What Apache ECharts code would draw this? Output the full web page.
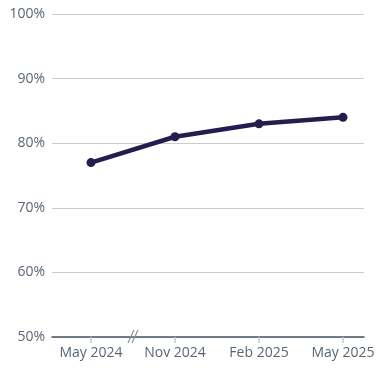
<!DOCTYPE html>
<html>
<head>
<meta charset="utf-8">
<script src="https://cdn.jsdelivr.net/npm/echarts@6/dist/echarts.min.js"></script>
<style>
  html, body { margin: 0; padding: 0; background: #fff; }
  #chart { width: 389px; height: 378px; }
</style>
</head>
<body>
<div id="chart"></div>
<script>
// categories and values
var categories = ['May 2024', 'Nov 2024', 'Feb 2025', 'May 2025'];
var shareValues = [77, 81, 83, 84];
var yTicks = [50, 60, 70, 80, 90, 100];

var myChart = echarts.init(document.getElementById('chart'));

var seriesData = shareValues.map(function (v, i) { return [i, v]; });
var catIdx = categories.map(function (c, i) { return i; });

var option = {
    animation: false,
    grid: { left: 52, right: 25, top: 14, bottom: 41 },
    xAxis: {
        type: 'value',
        min: -0.464,
        max: 3.25,
        axisLine: { show: true, lineStyle: { color: '#4a5562', width: 1.5 } },
        axisTick: {
            show: true, length: 6, customValues: catIdx,
            lineStyle: { color: '#c8c8c8', width: 1.5 }
        },
        axisLabel: {
            customValues: catIdx,
            margin: 9,
            color: '#5b6672',
            fontSize: 14,
            fontFamily: 'Open Sans',
            formatter: function (v) { return categories[Math.round(v)]; }
        },
        splitLine: { show: false }
    },
    yAxis: {
        type: 'value',
        min: yTicks[0],
        max: yTicks[yTicks.length - 1],
        interval: 10,
        axisLine: { show: false },
        axisTick: { show: false },
        axisLabel: {
            margin: 7,
            color: '#5b6672',
            fontSize: 14,
            fontFamily: 'Open Sans',
            formatter: '{value}%'
        },
        splitLine: { lineStyle: { color: '#cccccc', width: 1 } }
    },
    series: [{
        type: 'line',
        data: seriesData,
        symbol: 'circle',
        symbolSize: 9,
        lineStyle: { color: '#241e4e', width: 4.5 },
        itemStyle: { color: '#241e4e' },
        z: 5
    }]
};

myChart.setOption(option);

// axis break mark (//) between the first two dates
var bp = myChart.convertToPixel({ gridIndex: 0 }, [0.5, yTicks[0]]);
var slash = function (dx) {
    return {
        type: 'line',
        shape: { x1: bp[0] + dx - 3, y1: bp[1] + 6, x2: bp[0] + dx + 3, y2: bp[1] - 7 },
        style: { stroke: '#8a929b', lineWidth: 1.2 },
        z: 10
    };
};
myChart.setOption({ graphic: [slash(-2), slash(2)] });
</script>
</body>
</html>
